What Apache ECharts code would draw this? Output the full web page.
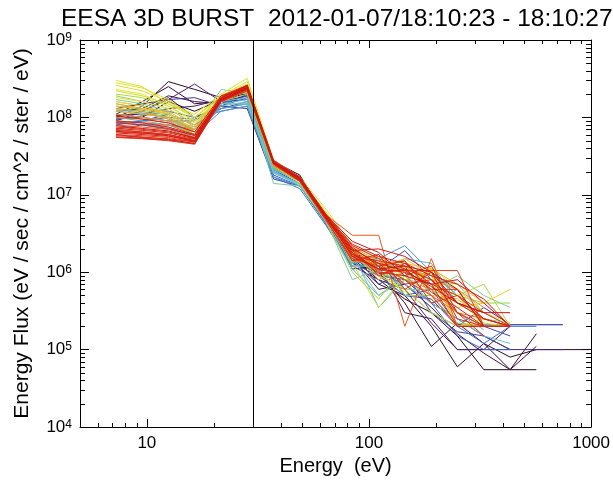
<!DOCTYPE html>
<html>
<head>
<meta charset="utf-8">
<script src="https://cdn.jsdelivr.net/npm/echarts@6/dist/echarts.min.js"></script>
<style>
  html, body { margin: 0; padding: 0; background: #fff; }
  #chart { width: 613px; height: 483px; }
</style>
</head>
<body>
<div id="chart"></div>
<script>
// energy bins (eV) of the sweep
const energies = [7.26, 9.53, 12.5, 16.4, 21.6, 28.3, 37.2, 48.8, 64.1, 84.2, 110.6, 145, 191, 250, 329, 432, 567, 745, 978]
const markerEnergy = 30
const xTickLabels = ['10', '100', '1000']
const yTickLabels = ['10^4', '10^5', '10^6', '10^7', '10^8', '10^9']

// one array per angle bin, ordered dark purple -> red (missing bins left off the end)
const f01 = [9.5e7, 1.0e8, 1.6e8, 1.2e8, 1.7e8, 2.1e8, 2.7e7, 1.8e7, 5.0e6, 1.5e6, 8.0e5, 4.5e5, 3.0e5, 1.5e5, 5.5e4, 5.5e4, 5.5e4]
const f02 = [1.0e8, 1.4e8, 2.9e8, 2.3e8, 1.8e8, 2.0e8, 2.6e7, 1.7e7, 5.5e6, 1.8e6, 7.0e5, 5.0e5, 2.0e5, 6.0e4, 1.2e5, 8.0e4, 1.0e5, 1.0e5, 1.0e5]
const f03 = [1.1e8, 1.6e8, 2.5e8, 1.5e8, 1.6e8, 1.9e8, 2.4e7, 1.6e7, 5.0e6, 1.3e6, 1.0e6, 4.0e5, 1.1e5, 2.2e5, 1.2e5, 5.5e4, 1.6e5]
const f04 = [1.2e8, 1.3e8, 1.9e8, 1.6e8, 1.5e8, 2.2e8, 2.5e7, 1.5e7, 4.5e6, 1.5e6, 6.0e5, 7.0e5, 3.5e5, 1.6e5, 9.0e4, 5.5e4, 1.1e5]
const f05 = [9.0e7, 1.2e8, 1.8e8, 1.0e8, 1.4e8, 2.0e8, 2.3e7, 1.5e7, 4.8e6, 1.1e6, 1.2e6, 3.0e5, 2.5e5, 1.0e5, 1.0e5, 2.0e5]
const f06 = [1.05e8, 1.1e8, 1.3e8, 1.4e8, 1.7e8, 2.1e8, 2.6e7, 1.7e7, 5.2e6, 1.6e6, 9.0e5, 8.0e5, 4.0e5, 2.5e5, 1.5e5, 1.0e5]
const f07 = [1.3e8, 1.5e8, 1.7e8, 2.7e8, 1.6e8, 1.7e8, 2.0e7, 1.4e7, 4.5e6, 1.2e6, 8.0e5, 6.0e5, 2.2e5, 1.0e5, 1.0e5, 1.0e5, 1.0e5, 1.0e5]
const f08 = [1.0e8, 1.2e8, 1.7e8, 1.8e8, 1.4e8, 1.3e8, 1.6e7, 1.3e7, 4.3e6, 1.7e6, 1.5e6, 5.0e5, 4.5e5, 2.0e5, 3.5e5, 2.1e5, 2.1e5, 2.1e5]
const f09 = [8.0e7, 9.0e7, 1.1e8, 8.0e7, 1.3e8, 1.6e8, 2.1e7, 1.4e7, 4.2e6, 1.4e6, 7.0e5, 1.0e6, 3.0e5, 1.7e5, 1.5e5, 1.0e5]
const f10 = [1.1e8, 1.0e8, 9.0e7, 9.0e7, 1.5e8, 1.9e8, 2.2e7, 1.5e7, 5.0e6, 2.0e6, 1.1e6, 1.9e6, 8.0e5, 3.0e5, 2.0e5, 1.5e5]
const f11 = [7.0e7, 8.0e7, 8.0e7, 7.0e7, 1.4e8, 1.8e8, 2.2e7, 1.5e7, 4.6e6, 1.3e6, 9.0e5, 5.0e5, 6.0e5, 2.1e5, 2.1e5, 2.1e5, 2.1e5, 2.1e5]
const f12 = [9.5e7, 1.05e8, 1.2e8, 1.0e8, 1.3e8, 1.5e8, 1.8e7, 1.3e7, 4.4e6, 1.5e6, 1.0e6, 7.0e5, 4.0e5, 1.5e5, 1.0e5, 1.0e5]
const f13 = [8.5e7, 9.0e7, 1.0e8, 9.5e7, 1.2e8, 1.4e8, 1.7e7, 1.2e7, 4.0e6, 1.2e6, 1.3e6, 6.0e5, 3.0e5, 2.0e5, 1.2e5, 2.0e5, 2.0e5]
const f14 = [9.0e7, 8.0e7, 7.0e7, 6.0e7, 1.2e8, 1.4e8, 1.7e7, 1.3e7, 4.2e6, 1.3e6, 1.5e6, 2.2e6, 1.0e6, 5.0e5, 2.5e5, 2.0e5]
const f15 = [1.0e8, 9.0e7, 8.0e7, 6.5e7, 1.3e8, 1.5e8, 1.9e7, 1.4e7, 4.4e6, 1.1e6, 5.0e5, 9.0e5, 4.0e5, 6.0e5, 2.1e5, 2.1e5]
const f16 = [8.5e7, 8.0e7, 7.5e7, 5.5e7, 1.5e8, 1.7e8, 2.0e7, 1.3e7, 5.0e6, 1.6e6, 1.0e6, 1.5e6, 1.3e6, 4.0e5, 3.0e5, 2.0e5]
const f17 = [1.1e8, 1.0e8, 9.0e7, 7.0e7, 1.6e8, 1.8e8, 2.1e7, 1.5e7, 4.5e6, 1.8e6, 3.5e5, 8.0e5, 7.0e5, 3.0e5, 1.8e5]
const f18 = [9.0e7, 8.5e7, 8.0e7, 6.0e7, 1.4e8, 1.6e8, 2.0e7, 1.4e7, 4.8e6, 1.2e6, 1.2e6, 7.0e5, 4.0e5, 2.5e5, 1.5e5, 1.2e5]
const f19 = [1.25e8, 1.15e8, 9.5e7, 7.5e7, 1.5e8, 1.5e8, 1.9e7, 1.35e7, 4.6e6, 1.7e6, 1.3e6, 1.1e6, 9.0e5, 6.0e5, 3.0e5]
const f20 = [1.5e8, 1.3e8, 1.1e8, 7.0e7, 2.3e8, 2.0e8, 1.4e7, 1.3e7, 4.6e6, 8.0e5, 1.1e6, 6.0e5, 6.0e5, 3.0e5, 2.0e5, 2.0e5]
const f21 = [1.7e8, 1.5e8, 1.2e8, 4.5e7, 1.9e8, 2.1e8, 2.3e7, 1.5e7, 4.4e6, 1.5e6, 5.0e5, 8.0e5, 1.0e6, 4.0e5, 2.5e5, 2.2e5]
const f22 = [1.3e8, 1.2e8, 1.0e8, 6.0e7, 1.7e8, 2.2e8, 2.4e7, 1.6e7, 5.0e6, 1.9e6, 1.4e6, 1.0e6, 6.0e5, 9.0e5, 5.0e5, 3.5e5]
const f23 = [1.9e8, 1.6e8, 1.3e8, 8.0e7, 1.8e8, 2.3e8, 2.5e7, 1.6e7, 5.2e6, 1.7e6, 9.0e5, 1.2e6, 8.0e5, 7.0e5, 3.0e5]
const f24 = [1.2e8, 1.1e8, 1.0e8, 7.0e7, 1.6e8, 2.0e8, 2.2e7, 1.5e7, 4.7e6, 1.4e6, 1.3e6, 5.0e5, 5.0e5, 2.2e5, 2.0e5, 2.0e5]
const f25 = [1.4e8, 1.25e8, 1.05e8, 5.0e7, 1.75e8, 2.1e8, 2.3e7, 1.5e7, 4.9e6, 1.6e6, 1.2e6, 1.3e6, 7.0e5, 5.0e5, 2.2e5]
const f26 = [1.6e8, 1.4e8, 1.15e8, 6.5e7, 1.8e8, 2.2e8, 2.4e7, 1.55e7, 5.1e6, 1.8e6, 1.0e6, 9.0e5, 1.1e6, 5.0e5, 4.0e5, 4.0e5]
const f27 = [2.0e8, 1.8e8, 1.4e8, 9.0e7, 1.7e8, 2.4e8, 2.4e7, 1.4e7, 4.5e6, 1.0e6, 4.5e5, 1.2e6, 7.0e5, 5.0e5, 7.0e5, 2.0e5]
const f28 = [2.2e8, 1.9e8, 1.5e8, 1.0e8, 1.8e8, 2.6e8, 2.6e7, 1.5e7, 5.3e6, 1.3e6, 3.5e5, 9.0e5, 1.1e6, 2.0e5, 2.2e5, 2.0e5]
const f29 = [2.6e8, 2.2e8, 1.6e8, 1.0e8, 1.9e8, 2.9e8, 2.7e7, 1.6e7, 6.0e6, 2.0e6, 1.2e6, 1.4e6, 6.0e5, 4.0e5, 3.0e5]
const f30 = [3.0e8, 2.5e8, 1.5e8, 1.1e8, 2.0e8, 3.2e8, 2.8e7, 1.7e7, 6.5e6, 2.2e6, 1.5e6, 8.0e5, 1.0e6, 2.0e5, 2.0e5, 2.0e5]
const f31 = [2.8e8, 2.4e8, 1.7e8, 1.0e8, 1.9e8, 2.7e8, 2.5e7, 1.5e7, 5.5e6, 1.9e6, 9.0e5, 6.0e5, 3.0e5, 2.0e5, 2.5e5]
const f32 = [2.3e8, 2.0e8, 1.4e8, 9.0e7, 1.8e8, 2.5e8, 2.6e7, 1.6e7, 5.7e6, 1.7e6, 1.0e6, 5.5e5, 1.2e6, 6.0e5, 3.0e5, 2.2e5]
const f33 = [1.8e8, 1.6e8, 1.3e8, 8.5e7, 1.75e8, 2.4e8, 2.5e7, 1.55e7, 5.4e6, 1.6e6, 1.3e6, 1.0e6, 7.0e5, 5.0e5, 2.0e5]
const f34 = [1.6e8, 1.4e8, 1.1e8, 8.0e7, 1.7e8, 2.3e8, 2.5e7, 1.6e7, 5.4e6, 1.9e6, 1.3e6, 1.0e6, 7.0e5, 3.5e5, 4.0e5, 6.0e5]
const f35 = [1.4e8, 1.3e8, 1.1e8, 7.0e7, 1.6e8, 2.2e8, 2.4e7, 1.5e7, 5.1e6, 1.6e6, 1.1e6, 1.5e6, 9.0e5, 2.0e5, 2.0e5, 2.0e5]
const f36 = [1.5e8, 1.3e8, 1.2e8, 7.5e7, 1.7e8, 2.4e8, 2.6e7, 1.6e7, 5.6e6, 1.8e6, 8.0e5, 1.3e6, 1.1e6, 7.0e5, 4.0e5]
const f37 = [1.2e8, 1.1e8, 1.0e8, 6.5e7, 1.6e8, 2.2e8, 2.4e7, 1.5e7, 5.0e6, 2.1e6, 1.4e6, 9.0e5, 5.0e5, 4.5e5, 2.5e5, 2.0e5]
const f38 = [1.3e8, 1.2e8, 9.5e7, 7.0e7, 1.7e8, 2.3e8, 2.5e7, 1.6e7, 5.3e6, 1.5e6, 1.6e6, 1.1e6, 9.0e5, 4.0e5, 3.0e5]
const f39 = [1.1e8, 1.0e8, 9.0e7, 6.0e7, 1.65e8, 2.3e8, 2.5e7, 1.55e7, 5.2e6, 1.7e6, 1.2e6, 8.0e5, 6.0e5, 3.0e5, 2.0e5, 2.0e5]
const f40 = [1.0e8, 9.5e7, 8.5e7, 6.5e7, 1.7e8, 2.4e8, 2.6e7, 1.6e7, 5.5e6, 2.0e6, 1.1e6, 1.2e6, 8.0e5, 6.0e5, 3.5e5]
const f41 = [9.0e7, 8.5e7, 8.0e7, 6.0e7, 1.6e8, 2.2e8, 2.4e7, 1.5e7, 5.0e6, 1.4e6, 1.3e6, 1.4e6, 5.0e5, 3.0e5, 2.5e5, 2.0e5]
const f42 = [8.0e7, 7.5e7, 7.0e7, 5.5e7, 1.6e8, 2.3e8, 2.6e7, 1.6e7, 5.5e6, 3.0e6, 3.0e6, 2.0e5, 1.5e6, 2.0e5]
const f43 = [7.0e7, 6.5e7, 6.0e7, 5.0e7, 1.7e8, 2.4e8, 2.7e7, 1.6e7, 5.0e6, 1.8e6, 1.05e6, 1.05e6, 1.05e6, 1.05e6, 2.0e5, 2.0e5]
const f44 = [6.0e7, 5.8e7, 5.5e7, 4.8e7, 1.7e8, 2.3e8, 2.5e7, 1.5e7, 4.6e6, 1.5e6, 1.2e6, 8.0e5, 5.0e5, 2.0e5, 2.0e5, 2.0e5]
const f45 = [6.5e7, 6.2e7, 6.0e7, 5.0e7, 1.8e8, 2.5e8, 2.6e7, 1.6e7, 5.2e6, 2.0e6, 9.0e5, 1.3e6, 7.0e5, 5.0e5, 3.0e5, 2.0e5]
const f46 = [5.5e7, 5.3e7, 5.0e7, 4.5e7, 1.6e8, 2.2e8, 2.5e7, 1.5e7, 4.9e6, 1.7e6, 1.3e6, 7.0e5, 8.0e5, 3.0e5, 2.0e5]
const f47 = [7.5e7, 7.0e7, 6.5e7, 5.5e7, 1.9e8, 2.6e8, 2.8e7, 1.7e7, 5.6e6, 2.2e6, 1.5e6, 1.1e6, 6.0e5, 6.0e5, 2.0e5, 2.0e5]
const f48 = [6.8e7, 6.5e7, 6.0e7, 5.2e7, 1.7e8, 2.4e8, 2.6e7, 1.6e7, 5.1e6, 1.9e6, 1.0e6, 9.0e5, 1.2e6, 3.0e5, 1.5e5]
const f49 = [6.0e7, 5.5e7, 5.3e7, 4.8e7, 1.8e8, 2.5e8, 2.7e7, 1.6e7, 5.3e6, 1.6e6, 1.4e6, 1.2e6, 4.0e5, 5.0e5, 2.5e5, 2.0e5]
const f50 = [5.8e7, 5.6e7, 5.2e7, 4.6e7, 1.7e8, 2.3e8, 2.5e7, 1.5e7, 4.8e6, 1.4e6, 1.7e6, 6.0e5, 1.0e6, 2.5e5, 2.0e5]
const f51 = [7.2e7, 6.8e7, 6.3e7, 5.3e7, 1.8e8, 2.6e8, 2.7e7, 1.7e7, 5.4e6, 2.1e6, 1.2e6, 1.4e6, 5.5e5, 3.5e5, 2.0e5]
const f52 = [6.3e7, 6.0e7, 5.7e7, 5.0e7, 1.6e8, 2.4e8, 2.6e7, 1.6e7, 5.0e6, 1.7e6, 1.1e6, 1.0e6, 7.0e5, 2.0e5, 2.0e5, 2.0e5]
const f53 = [5.6e7, 5.4e7, 5.1e7, 4.6e7, 1.7e8, 2.5e8, 2.7e7, 1.6e7, 5.2e6, 1.8e6, 9.5e5, 1.1e6, 8.0e5, 4.0e5, 2.5e5, 2.0e5]
const f54 = [9.0e7, 8.5e7, 7.5e7, 6.0e7, 1.8e8, 2.5e8, 2.6e7, 1.6e7, 5.3e6, 2.3e6, 1.6e6, 1.3e6, 9.0e5, 7.0e5, 4.5e5, 2.0e5]
const f55 = [1.05e8, 9.5e7, 8.5e7, 6.5e7, 1.9e8, 2.4e8, 2.5e7, 1.55e7, 5.0e6, 1.9e6, 2.0e6, 1.6e6, 1.0e6, 4.0e5, 3.0e5]
const f56 = [8.5e7, 8.0e7, 7.2e7, 5.8e7, 1.75e8, 2.6e8, 2.7e7, 1.65e7, 5.5e6, 2.5e6, 1.8e6, 9.0e5, 7.0e5, 8.0e5, 4.0e5, 2.0e5]
const f57 = [6.6e7, 6.3e7, 5.8e7, 4.9e7, 1.65e8, 2.3e8, 2.6e7, 1.6e7, 5.1e6, 1.6e6, 1.1e6, 1.2e6, 1.0e6, 6.0e5, 2.0e5]
const f58 = [7.8e7, 7.2e7, 6.7e7, 5.4e7, 1.7e8, 2.4e8, 2.6e7, 1.6e7, 5.2e6, 2.0e6, 1.3e6, 1.05e6, 6.5e5, 4.0e5, 3.0e5, 3.0e5]

const fluxLines = [f01, f02, f03, f04, f05, f06, f07, f08, f09, f10, f11, f12, f13, f14, f15, f16, f17, f18, f19, f20,
  f21, f22, f23, f24, f25, f26, f27, f28, f29, f30, f31, f32, f33, f34, f35, f36, f37, f38, f39, f40,
  f41, f42, f43, f44, f45, f46, f47, f48, f49, f50, f51, f52, f53, f54, f55, f56, f57, f58]

// colour table, dark -> red
const rainbow = [
  [0.00, [35, 5, 25]], [0.09, [80, 25, 100]], [0.13, [65, 55, 160]], [0.21, [60, 110, 200]],
  [0.24, [90, 170, 215]], [0.31, [110, 200, 205]], [0.34, [125, 200, 160]], [0.44, [150, 210, 80]],
  [0.47, [200, 225, 50]], [0.56, [245, 225, 35]], [0.60, [245, 185, 40]], [0.70, [240, 120, 30]],
  [0.74, [230, 60, 25]], [1.00, [205, 20, 20]]
]
const pickColor = t => {
  for (let i = 1; i < rainbow.length; i++) {
    if (t <= rainbow[i][0]) {
      const [t0, c0] = rainbow[i - 1]
      const [t1, c1] = rainbow[i]
      const f = (t - t0) / (t1 - t0)
      const c = c0.map((v, k) => Math.round(v + (c1[k] - v) * f))
      return `rgb(${c[0]},${c[1]},${c[2]})`
    }
  }
  return 'rgb(205,20,20)'
}

const xMin = 5, xMax = 1000, yMin = 1e4, yMax = 1e9
const font = 'Liberation Sans, Arial, Helvetica, sans-serif'

// minor tick positions (2..9 within each decade)
const xMinor = [], yMinor = []
for (let d = 1; d <= 100; d *= 10) {
  for (let k = 2; k <= 9; k++) {
    const v = k * d
    if (v > xMin && v < xMax) xMinor.push([v, yMin])
  }
}
for (let d = 1e4; d < 1e9; d *= 10) {
  for (let k = 2; k <= 9; k++) yMinor.push([xMin, k * d])
}

const lineSeries = fluxLines.map((vals, i) => {
  const color = pickColor(i / (fluxLines.length - 1))
  return {
    type: 'line',
    data: vals.map((v, j) => (v == null ? null : [energies[j], v])).filter(p => p),
    showSymbol: false,
    lineStyle: { width: 1, color },
    itemStyle: { color },
    silent: true,
    z: 2
  }
})

// short inward minor ticks on all four sides
const minorTicks = (data, horizontal) => ({
  type: 'custom',
  data: data,
  silent: true,
  clip: false,
  z: 5,
  renderItem: (params, api) => {
    const st = { stroke: '#000', lineWidth: 1 }
    if (horizontal) {
      const b = api.coord([api.value(0), yMin])
      const t = api.coord([api.value(0), yMax])
      const x = Math.round(b[0]) + 0.5
      return {
        type: 'group',
        children: [
          { type: 'line', shape: { x1: x, y1: b[1], x2: x, y2: b[1] - 4 }, style: st },
          { type: 'line', shape: { x1: x, y1: t[1], x2: x, y2: t[1] + 4 }, style: st }
        ]
      }
    }
    const l = api.coord([xMin, api.value(1)])
    const r = api.coord([xMax, api.value(1)])
    const y = Math.round(l[1]) + 0.5
    return {
      type: 'group',
      children: [
        { type: 'line', shape: { x1: l[0], y1: y, x2: l[0] + 5, y2: y }, style: st },
        { type: 'line', shape: { x1: r[0], y1: y, x2: r[0] - 5, y2: y }, style: st }
      ]
    }
  }
})

const isDecade = v => Math.abs(Math.log10(v) - Math.round(Math.log10(v))) < 1e-6

const chart = echarts.init(document.getElementById('chart'))
chart.setOption({
  animation: false,
  backgroundColor: '#fff',
  textStyle: { fontFamily: font },
  title: {
    text: 'EESA 3D BURST  2012-01-07/18:10:23 - 18:10:27',
    left: 56,
    top: 2,
    textStyle: { fontSize: 24.5, fontWeight: 'normal', color: '#000', fontFamily: font }
  },
  grid: { left: 80, right: 21, top: 40, bottom: 56, containLabel: false },
  xAxis: [
    {
      type: 'log', min: xMin, max: xMax, logBase: 10,
      name: 'Energy  (eV)', nameLocation: 'middle', nameGap: 28,
      nameTextStyle: { fontSize: 20, color: '#000', fontFamily: font },
      axisLine: { lineStyle: { color: '#000', width: 1 } },
      axisTick: { inside: true, length: 8, lineStyle: { color: '#000' } },
      axisLabel: {
        fontSize: 17, color: '#000', margin: 8, showMinLabel: false,
        formatter: v => (isDecade(v) && xTickLabels.includes(String(Math.round(v))) ? String(Math.round(v)) : '')
      },
      splitLine: { show: false }
    },
    {
      type: 'log', min: xMin, max: xMax, logBase: 10, position: 'top',
      axisLine: { lineStyle: { color: '#000', width: 1 } },
      axisTick: { inside: true, length: 8, lineStyle: { color: '#000' } },
      axisLabel: { show: false },
      splitLine: { show: false }
    }
  ],
  yAxis: [
    {
      type: 'log', min: yMin, max: yMax, logBase: 10,
      name: 'Energy Flux (eV / sec / cm^2 / ster / eV)', nameLocation: 'middle', nameGap: 47,
      nameTextStyle: { fontSize: 21, color: '#000', fontFamily: font },
      axisLine: { lineStyle: { color: '#000', width: 1 } },
      axisTick: { inside: true, length: 9, lineStyle: { color: '#000' } },
      axisLabel: {
        margin: 8,
        formatter: v => {
          const e = Math.round(Math.log10(v))
          return yTickLabels.includes('10^' + e) ? '{b|10}{s|' + e + '}' : ''
        },
        rich: {
          b: { fontSize: 17, color: '#000', fontFamily: font },
          s: { fontSize: 12, color: '#000', fontFamily: font, verticalAlign: 'top' }
        }
      },
      splitLine: { show: false }
    },
    {
      type: 'log', min: yMin, max: yMax, logBase: 10, position: 'right',
      axisLine: { lineStyle: { color: '#000', width: 1 } },
      axisTick: { inside: true, length: 9, lineStyle: { color: '#000' } },
      axisLabel: { show: false },
      splitLine: { show: false }
    }
  ],
  series: [
    ...lineSeries,
    {
      type: 'line',
      data: [],
      silent: true,
      markLine: {
        symbol: 'none',
        silent: true,
        label: { show: false },
        lineStyle: { color: '#000', width: 1, type: 'solid' },
        data: [{ xAxis: markerEnergy }]
      },
      z: 4
    },
    minorTicks(xMinor, true),
    minorTicks(yMinor, false)
  ]
})
</script>
</body>
</html>
